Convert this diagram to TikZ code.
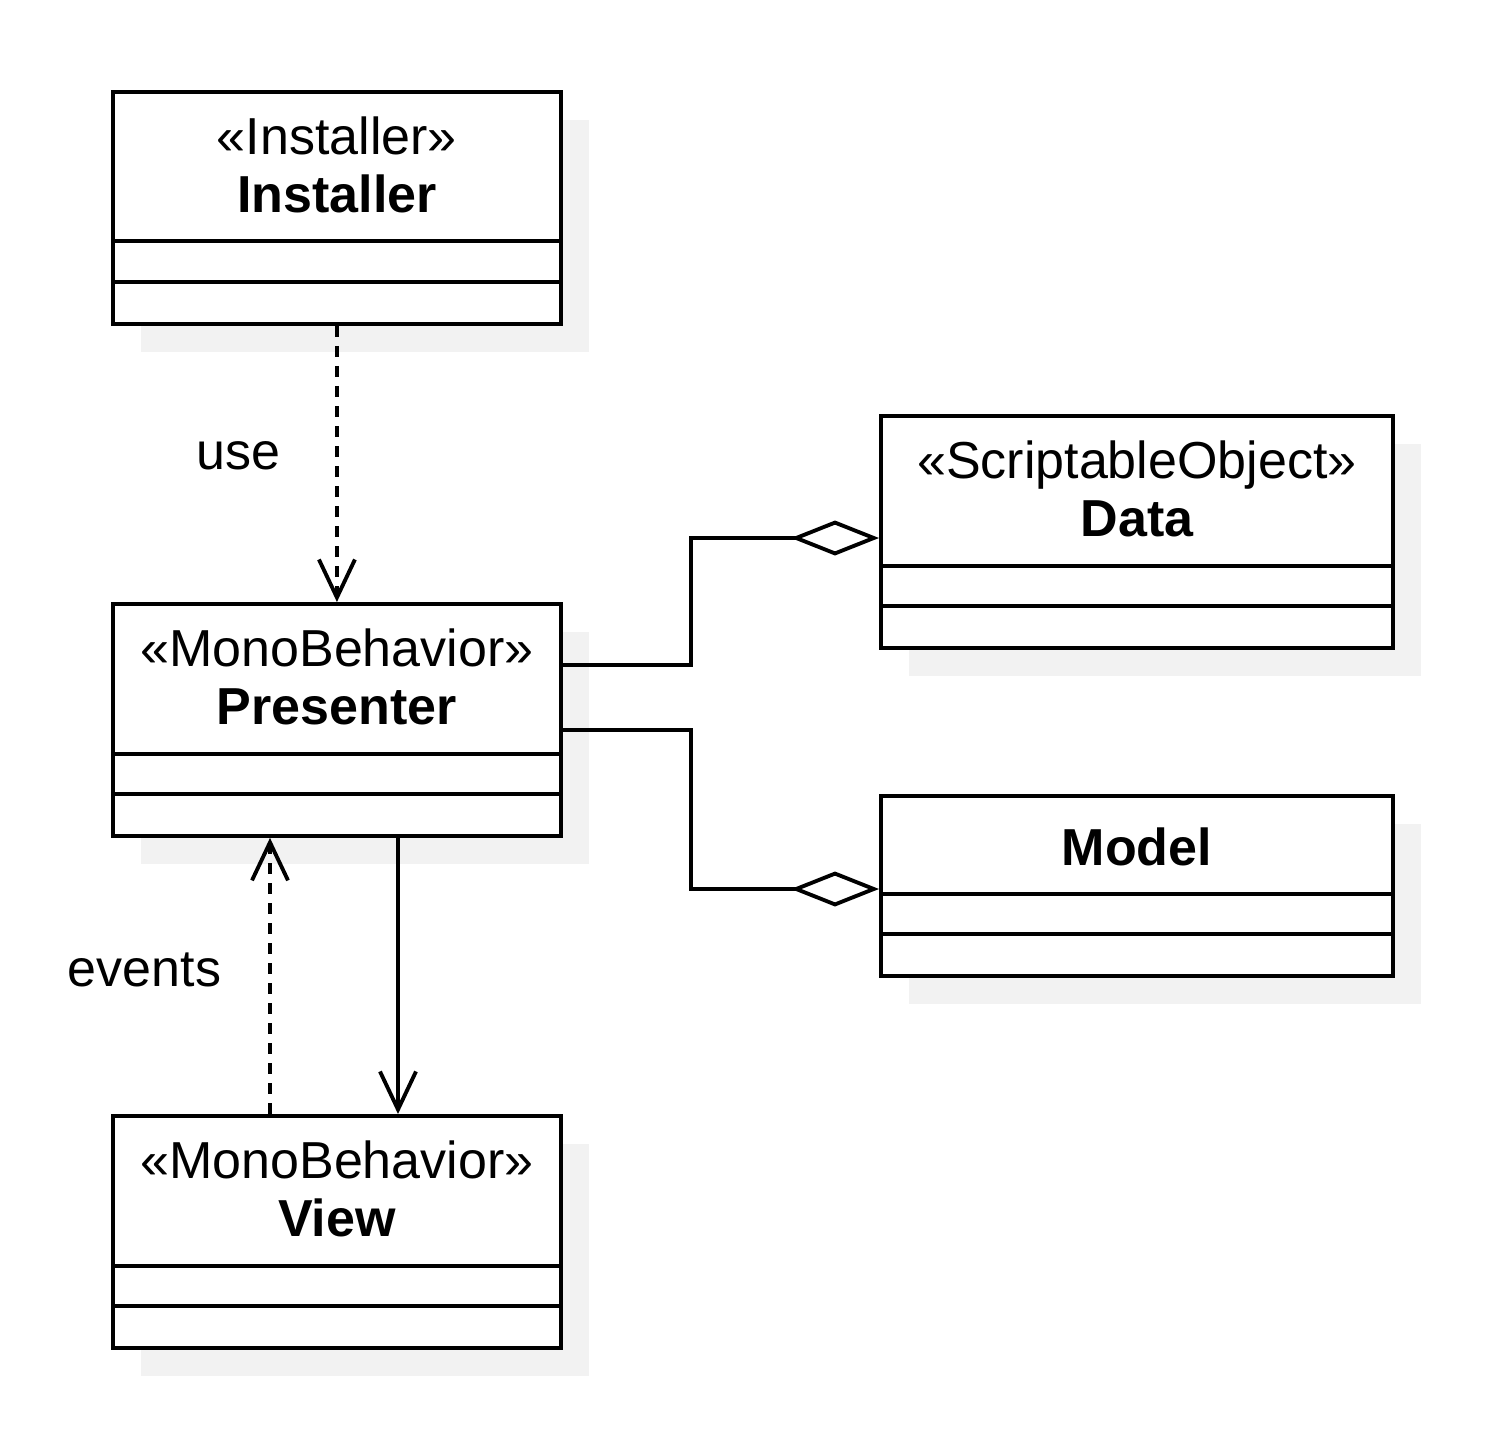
\documentclass[tikz,border=0pt]{standalone}
\usepackage{fontspec}
\setmainfont{Liberation Sans}
\usetikzlibrary{arrows.meta, positioning, calc, shadows}
\definecolor{shadowgray}{HTML}{F2F2F2}

\tikzset{
  umlclass/.style={draw, rectangle, line width=1.1pt, anchor=north west,
    minimum width=4.48cm, minimum height=2.32cm, inner sep=0pt, fill=white,
    drop shadow={shadow xshift=0.28cm, shadow yshift=-0.28cm, fill=shadowgray, opacity=1}},
  stereo/.style={anchor=base, inner sep=0pt, font=\fontsize{14.8}{17}\selectfont},
  classname/.style={anchor=base, inner sep=0pt, font=\fontsize{14.8}{17}\selectfont\bfseries},
  compline/.style={line width=1.1pt},
  dep/.style={line width=1.1pt, dash pattern=on 3.1pt off 2.6pt, -{Straight Barb[length=0.38cm, width=0.36cm]}},
  assoc/.style={line width=1.1pt, -{Straight Barb[length=0.38cm, width=0.36cm]}},
  aggr/.style={line width=1.1pt, -{Diamond[open, length=0.88cm, width=0.35cm]}},
  linklabel/.style={inner sep=0pt, font=\fontsize{14.8}{17}\selectfont}
}

\begin{document}
\begin{tikzpicture}

    \useasboundingbox (0.02,-0.02) rectangle (15.05,-14.48);

    % Classes
    \node [umlclass] (installer) at (1.13,-0.92) {};
    \node [umlclass] (presenter) at (1.13,-6.04) {};
    \node [umlclass] (view) at (1.13,-11.16) {};
    \node [umlclass, minimum width=5.12cm] (data) at (8.81,-4.16) {};
    \node [umlclass, minimum width=5.12cm, minimum height=1.80cm] (model) at (8.81,-7.96) {};

    % Headers
    \node [stereo] (installerS) at ($(installer.north)+(0,-0.64)$) {«Installer»};
    \node [classname] (installerN) at ($(installer.north)+(0,-1.22)$) {Installer};
    \node [stereo] (presenterS) at ($(presenter.north)+(0,-0.64)$) {«MonoBehavior»};
    \node [classname] (presenterN) at ($(presenter.north)+(0,-1.22)$) {Presenter};
    \node [stereo] (viewS) at ($(view.north)+(0,-0.64)$) {«MonoBehavior»};
    \node [classname] (viewN) at ($(view.north)+(0,-1.22)$) {View};
    \node [stereo] (dataS) at ($(data.north)+(0,-0.64)$) {«ScriptableObject»};
    \node [classname] (dataN) at ($(data.north)+(0,-1.22)$) {Data};
    \node [classname] (modelN) at ($(model.north)+(0,-0.71)$) {Model};

    % Compartments
    \draw[compline] ($(installer.north west)+(0,-1.51)$) -- ++(4.52,0);
    \draw[compline] ($(installer.north west)+(0,-1.92)$) -- ++(4.52,0);
    \draw[compline] ($(presenter.north west)+(0,-1.52)$) -- ++(4.52,0);
    \draw[compline] ($(presenter.north west)+(0,-1.92)$) -- ++(4.52,0);
    \draw[compline] ($(view.north west)+(0,-1.52)$) -- ++(4.52,0);
    \draw[compline] ($(view.north west)+(0,-1.92)$) -- ++(4.52,0);
    \draw[compline] ($(data.north west)+(0,-1.52)$) -- ++(5.16,0);
    \draw[compline] ($(data.north west)+(0,-1.92)$) -- ++(5.16,0);
    \draw[compline] ($(model.north west)+(0,-1.00)$) -- ++(5.16,0);
    \draw[compline] ($(model.north west)+(0,-1.40)$) -- ++(5.16,0);

    % Arrows
    \draw[dep] (installer.south) -- node[linklabel, pos=0.47, left=0.55cm] {use} (presenter.north);
    \draw[dep] ([xshift=1.59cm]view.north west) -- node[linklabel, pos=0.52, left=0.47cm] {events} ([xshift=1.59cm]presenter.south west);
    \draw[assoc] ([xshift=2.87cm]presenter.south west) -- ([xshift=2.87cm]view.north west);
    \draw[aggr] ([yshift=-0.63cm]presenter.north east) -- ++(1.28,0) |- ([yshift=-1.24cm]data.north west);
    \draw[aggr] ([yshift=-1.28cm]presenter.north east) -- ++(1.28,0) |- ([yshift=-0.95cm]model.north west);

\end{tikzpicture}
\end{document}
